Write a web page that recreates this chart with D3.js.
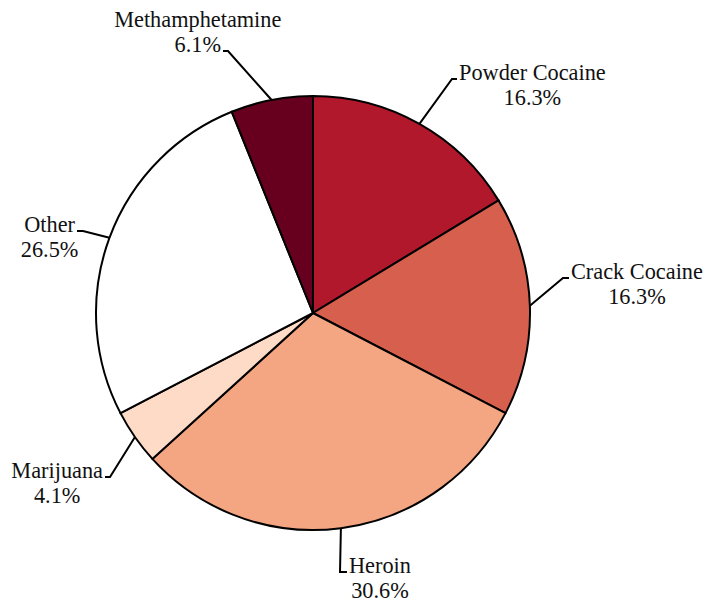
<!DOCTYPE html>
<html lang="en">
<head>
<meta charset="utf-8">
<style>
  body { margin: 0; background: white; }
  .slice { stroke: black; stroke-width: 2px; }
  .leader { stroke: black; stroke-width: 2px; fill: none; }
  .lbl { font-family: "Liberation Serif", "Times New Roman", Times, "DejaVu Serif", serif; font-size: 22.3px; fill: #111; }
</style>
</head>
<body>
<svg width="707" height="603"></svg>
<script src="https://d3js.org/d3.v7.min.js"></script>
<script>
// data
const drugs = ["Powder Cocaine", "Crack Cocaine", "Heroin", "Marijuana", "Other", "Methamphetamine"];
const shares = [16.3, 16.3, 30.6, 4.1, 26.5, 6.1];
const colors = ["#b2182b", "#d6604d", "#f4a582", "#fddbc7", "#ffffff", "#67001f"];

// label layout: elbow offset from centre, tick direction, text line the leader points at
const elbows = [[139, -234], [250, -35], [27, 259], [-203, 164], [-230, -82], [-85, -262]];
const ticks = [5, 6, 7, -5, -6, -5];
const attachLine = [0, 0, 0, 0, 0, 1];

const svg = d3.select("svg");
const cx = 313, cy = 313, r = 217;

const pie = d3.pie().sort(null).value(d => d.value);
const arcs = pie(drugs.map((name, i) => ({ name, value: shares[i], color: colors[i] })));
const arc = d3.arc().innerRadius(0).outerRadius(r);
const edge = d3.arc().innerRadius(r).outerRadius(r);

const g = svg.append("g").attr("transform", `translate(${cx},${cy})`);

g.selectAll("path.slice")
  .data(arcs)
  .enter().append("path")
    .attr("class", "slice")
    .attr("d", arc)
    .style("fill", d => d.data.color);

const lineH = 25;

arcs.forEach((d, i) => {
  const start = edge.centroid(d);
  const [ex, ey] = elbows[i];
  const tx = ex + ticks[i];
  g.append("path")
    .attr("class", "leader")
    .attr("d", d3.line()([start, [ex, ey], [tx, ey]]));

  const lines = [d.data.name, d3.format(".1f")(d.data.value) + "%"];
  const base = ey + 1 - attachLine[i] * lineH;
  const texts = lines.map((t, k) => g.append("text")
      .attr("class", "lbl")
      .attr("text-anchor", "middle")
      .attr("y", base + k * lineH)
      .text(t));
  // the leader meets the edge of the line it points at
  const w = texts[attachLine[i]].node().getComputedTextLength();
  const mid = ticks[i] > 0 ? tx + 2 + w / 2 : tx - 2 - w / 2;
  texts.forEach(t => t.attr("x", mid));
});
</script>
</body>
</html>
